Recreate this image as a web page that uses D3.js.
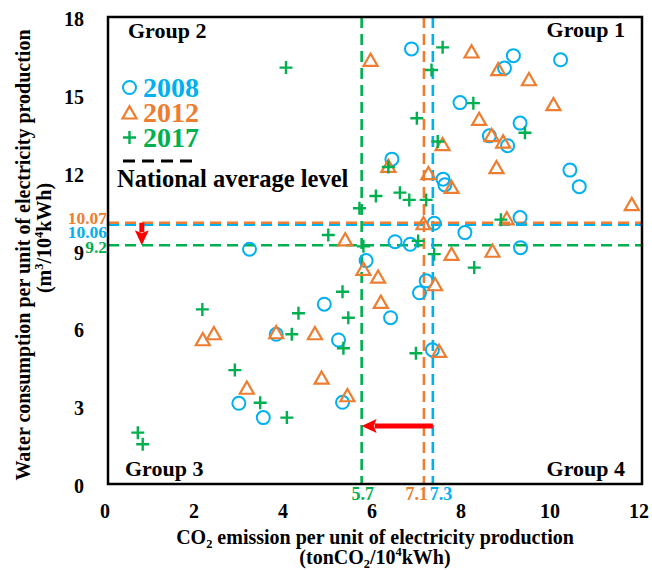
<!DOCTYPE html>
<html><head><meta charset="utf-8">
<script src="https://cdn.jsdelivr.net/npm/d3@7"></script>
<style>body{margin:0;background:#fff}</style>
</head><body><svg id="c" width="652" height="570"></svg>
<script>
// ---------- data ----------
const xTicks = [0, 2, 4, 6, 8, 10, 12];
const yTicks = [0, 3, 6, 9, 12, 15, 18];
const years = ["2008", "2012", "2017"];
const colors = ["#00B0F0", "#ED7D31", "#00B050"];

const x2008 = [6.82,9.11,8.91,10.17,7.91,9.26,8.57,8.98,6.38,10.38,10.59,7.53,7.57,7.33,9.26,8.02,6.45,6.79,9.27,3.18,5.80,7.15,7.00,4.86,3.78,5.18,6.35,7.29,2.94,3.49,5.27];
const y2008 = [16.77,16.51,16.03,16.35,14.70,13.91,13.42,13.04,12.52,12.10,11.46,11.75,11.53,10.05,10.27,9.69,9.34,9.24,9.11,9.05,8.61,7.83,7.37,6.93,5.77,5.55,6.41,5.17,3.11,2.56,3.15];

const x2012 = [5.90,8.17,8.77,9.46,10.01,8.34,8.62,8.88,7.52,6.30,8.73,7.20,7.72,11.77,8.96,7.09,5.33,8.64,7.72,5.74,6.07,7.35,6.13,2.13,2.38,3.78,4.65,4.80,3.12,5.38,7.44];
const y2012 = [16.35,16.67,15.99,15.60,14.64,14.07,13.45,13.20,13.10,12.26,12.21,11.98,11.45,10.79,10.24,10.05,9.43,8.99,8.87,8.29,7.99,7.70,7.02,5.58,5.81,5.85,5.81,4.10,3.71,3.42,5.13];

const x2017 = [7.52,4.00,7.27,8.21,6.94,9.37,7.41,6.30,6.02,6.56,6.77,7.15,5.65,8.83,4.95,6.97,7.33,8.23,5.27,4.28,5.40,2.12,4.13,5.29,6.92,2.85,3.42,4.02,0.67,0.78,5.74];
const y2017 = [16.83,16.05,15.96,14.68,14.10,13.54,13.20,12.22,11.10,11.23,10.95,10.95,10.63,10.19,9.60,9.37,8.86,8.34,7.41,6.58,6.41,6.73,5.77,5.23,5.04,4.39,3.13,2.56,1.98,1.53,9.16];

// national averages (2008, 2012, 2017)
const avgCO2 = [7.3, 7.1, 5.7];
const avgWater = [10.06, 10.07, 9.2];
const avgCO2Labels = ["7.3", "7.1", "5.7"];
const avgWaterLabels = ["10.06", "10.07", "9.2"];

// arrows (start -> end, data units)
const arrowX1 = [7.3, 0.76], arrowY1 = [2.24, 10.07];
const arrowX2 = [5.7, 0.76], arrowY2 = [2.24, 9.2];

const groupNames = ["Group 1", "Group 2", "Group 3", "Group 4"];
const legendExtra = "National average level";

// ---------- layout ----------
const svg = d3.select("#c");
const FONT = "'Liberation Serif','Times New Roman',serif";
const L = 108, R = 642, T = 17, B = 484;
const x = d3.scaleLinear().domain([0, 12]).range([L, R]);
const y = d3.scaleLinear().domain([0, 18]).range([B, T]);

const series = [
  {name: years[0], xs: x2008, ys: y2008, color: colors[0], shape: "circle"},
  {name: years[1], xs: x2012, ys: y2012, color: colors[1], shape: "triangle"},
  {name: years[2], xs: x2017, ys: y2017, color: colors[2], shape: "plus"}
];

const triPath = "M0,-6.2L7,6L-7,6Z";
const plusPath = "M-6.5,0H6.5M0,-6.5V6.5";
function drawMarker(g, shape, color) {
  if (shape === "circle") g.append("circle").attr("r", 6.5).attr("fill", "none").attr("stroke", color).attr("stroke-width", 2);
  else if (shape === "triangle") g.append("path").attr("d", triPath).attr("fill", "none").attr("stroke", color).attr("stroke-width", 2.2).attr("stroke-linejoin", "miter");
  else g.append("path").attr("d", plusPath).attr("fill", "none").attr("stroke", color).attr("stroke-width", 2.4);
}

// ---------- average dashed lines ----------
const lineG = svg.append("g");
const order = [2, 0, 1];
order.forEach(i => {
  lineG.append("line")
    .attr("x1", x(avgCO2[i])).attr("x2", x(avgCO2[i]))
    .attr("y1", T).attr("y2", B)
    .attr("stroke", colors[i]).attr("stroke-width", 2.6).attr("stroke-dasharray", "11,6");
  const off = i === 0 ? 1.6 : 0;
  lineG.append("line")
    .attr("x1", L).attr("x2", R)
    .attr("y1", y(avgWater[i]) + off).attr("y2", y(avgWater[i]) + off)
    .attr("stroke", colors[i]).attr("stroke-width", 2.6).attr("stroke-dasharray", "11,6");
});

// ---------- markers ----------
series.forEach(s => {
  const g = svg.append("g");
  s.xs.forEach((v, k) => {
    const m = g.append("g").attr("transform", `translate(${x(v)},${y(s.ys[k])})`);
    drawMarker(m, s.shape, s.color);
  });
});

// ---------- arrows ----------
arrowX1.forEach((v, i) => {
  const x1 = x(v), y1 = y(arrowY1[i]), x2 = x(arrowX2[i]), y2 = y(arrowY2[i]);
  const dx = x2 - x1, dy = y2 - y1, len = Math.hypot(dx, dy);
  const ux = dx / len, uy = dy / len;
  const hl = 15, hw = 7;
  const bx = x2 - ux * hl, by = y2 - uy * hl;
  svg.append("line").attr("x1", x1).attr("y1", y1).attr("x2", bx + ux * 2).attr("y2", by + uy * 2)
    .attr("stroke", "#FF0000").attr("stroke-width", 5);
  svg.append("path")
    .attr("d", `M${x2},${y2}L${bx - uy * hw},${by + ux * hw}L${bx + ux * 3},${by + uy * 3}L${bx + uy * hw},${by - ux * hw}Z`)
    .attr("fill", "#FF0000");
});

// ---------- frame ----------
svg.append("rect").attr("x", L).attr("y", T).attr("width", R - L).attr("height", B - T)
  .attr("fill", "none").attr("stroke", "#000").attr("stroke-width", 2.5);

// ---------- tick labels ----------
svg.append("g").selectAll("text").data(xTicks).join("text")
  .attr("x", d => x(d) - 3).attr("y", 518)
  .attr("text-anchor", "middle").attr("font-family", FONT).attr("font-weight", "bold").attr("font-size", 20)
  .text(d => d);
svg.append("g").selectAll("text").data(yTicks).join("text")
  .attr("x", 84).attr("y", d => y(d) + 9)
  .attr("text-anchor", "end").attr("font-family", FONT).attr("font-weight", "bold").attr("font-size", 20)
  .text(d => d);

// average value labels on axes
const ylabOff = [15, 1.5, 7.5]; // vertical separation of overlapping labels
avgWater.forEach((v, i) => {
  svg.append("text").attr("x", 107).attr("y", y(v) + ylabOff[i])
    .attr("text-anchor", "end").attr("font-family", FONT).attr("font-weight", "bold").attr("font-size", 17.5)
    .attr("fill", colors[i]).text(avgWaterLabels[i]);
});
const xlabAnchor = ["start", "end", "middle"];
const xlabDx = [-3, 4, 1];
avgCO2.forEach((v, i) => {
  svg.append("text").attr("x", x(v) + xlabDx[i]).attr("y", 500)
    .attr("text-anchor", xlabAnchor[i]).attr("font-family", FONT).attr("font-weight", "bold").attr("font-size", 18)
    .attr("fill", colors[i]).text(avgCO2Labels[i]);
});

// ---------- group labels ----------
const gpos = [[625, 37, "end"], [128, 38, "start"], [125, 476, "start"], [625, 476, "end"]];
groupNames.forEach((n, i) => {
  svg.append("text").attr("x", gpos[i][0]).attr("y", gpos[i][1]).attr("text-anchor", gpos[i][2])
    .attr("font-family", FONT).attr("font-weight", "bold").attr("font-size", 22).text(n);
});

// ---------- legend ----------
series.forEach((s, i) => {
  const cy = 87.5 + i * 25;
  const m = svg.append("g").attr("transform", `translate(129.5,${cy})`);
  drawMarker(m, s.shape, s.color);
  svg.append("text").attr("x", 143).attr("y", cy + 9.5)
    .attr("font-family", FONT).attr("font-weight", "bold").attr("font-size", 28)
    .attr("fill", s.color).text(s.name);
});
svg.append("line").attr("x1", 123).attr("x2", 197).attr("y1", 161).attr("y2", 161)
  .attr("stroke", "#000").attr("stroke-width", 3).attr("stroke-dasharray", "12,7");
svg.append("text").attr("x", 117).attr("y", 187)
  .attr("font-family", FONT).attr("font-weight", "bold").attr("font-size", 24.5).text(legendExtra);

// ---------- axis titles ----------
function rich(t, parts, size) {
  parts.forEach(p => {
    const ts = t.append("tspan").text(p[0]);
    if (p[1] === "sup") ts.attr("font-size", size * 0.62).attr("dy", -size * 0.38);
    if (p[1] === "sub") ts.attr("font-size", size * 0.62).attr("dy", size * 0.22);
    if (p[1] === "supEnd") ts.attr("dy", size * 0.38);
    if (p[1] === "subEnd") ts.attr("dy", -size * 0.22);
  });
}
const xt1 = svg.append("text").attr("x", 375).attr("y", 544).attr("text-anchor", "middle")
  .attr("font-family", FONT).attr("font-weight", "bold").attr("font-size", 20);
rich(xt1, [["CO"], ["2", "sub"], [" emission per unit of electricity production", "subEnd"]], 20);
const xt2 = svg.append("text").attr("x", 375).attr("y", 564).attr("text-anchor", "middle")
  .attr("font-family", FONT).attr("font-weight", "bold").attr("font-size", 20);
rich(xt2, [["(tonCO"], ["2", "sub"], ["/10", "subEnd"], ["4", "sup"], ["kWh)", "supEnd"]], 20);

svg.append("text").attr("transform", "translate(30,255) rotate(-90)").attr("text-anchor", "middle")
  .attr("font-family", FONT).attr("font-weight", "bold").attr("font-size", 20)
  .text("Water consumption per unit of electricity production");
const yt2 = svg.append("text").attr("transform", "translate(51,238) rotate(-90)").attr("text-anchor", "middle")
  .attr("font-family", FONT).attr("font-weight", "bold").attr("font-size", 20);
rich(yt2, [["(m"], ["3", "sup"], ["/10", "supEnd"], ["4", "sup"], ["kWh)", "supEnd"]], 20);
</script></body></html>
